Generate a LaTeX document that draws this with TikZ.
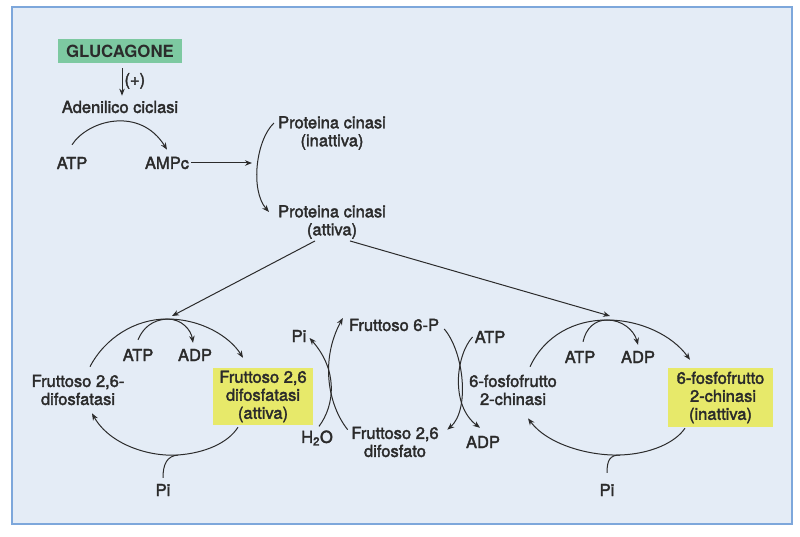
\documentclass[tikz,border=0pt]{standalone}
\usepackage{fontspec}
\setmainfont{TeX Gyre Heros}
\newfontfamily\diagfont{TeX Gyre Heros}[FakeBold=2.2]
\usetikzlibrary{arrows.meta}
\definecolor{pagebg}{HTML}{E4ECF6}
\definecolor{frame}{HTML}{7DA7DB}
\definecolor{hormgreen}{HTML}{7DC9A1}
\definecolor{enzyellow}{HTML}{E7E96A}
\definecolor{ink}{HTML}{2B2B2B}
\begin{document}
\begin{tikzpicture}[x=1pt, y=-1pt,
  lbl/.style={inner sep=2pt, text=ink, font=\diagfont\fontsize{16.5}{18}\selectfont, align=center},
  arr/.style={-{Stealth[length=7pt, width=5.5pt]}, draw=ink, line width=1pt},
  plain/.style={draw=ink, line width=1pt},
  hilite/.style={lbl, fill=enzyellow, minimum width=100pt, minimum height=57pt}]
\useasboundingbox (0,0) rectangle (800,537);
\fill[white] (0,0) rectangle (800,537);
\draw[draw=frame, fill=pagebg, line width=1.6pt] (12,7) rectangle (792,524);

% signal
\node[lbl, fill=hormgreen, minimum width=124pt, minimum height=24pt,
  font=\fontsize{16.8}{18}\selectfont\bfseries] (glu) at (120, 51) {GLUCAGONE};
\node[lbl] (acicl) at (120, 107) {Adenilico ciclasi};
\node[lbl] (atpA) at (72, 163) {ATP};
\node[lbl] (ampc) at (167, 163) {AMPc};
\node[lbl] (pkin) at (332, 133) {Proteina cinasi\\(inattiva)};
\node[lbl] (pkat) at (332, 222) {Proteina cinasi\\(attiva)};
\coordinate (pkmid) at (257, 163);

\draw[arr, shorten <=5pt, shorten >=3pt] ([xshift=2pt]glu.south) -- ([xshift=2pt]glu.south |- acicl.north)
  node[midway, right, lbl] {(+)};
\draw[arr] ([yshift=10pt]atpA.north) .. controls (88, 120) and (140, 106) .. ([yshift=5pt]ampc.north);
\draw[arr, shorten >=5pt] (ampc) -- (pkmid);
\draw[arr] ([xshift=-2pt, yshift=10pt]pkin.west) .. controls (256, 140) and (250, 190) .. ([xshift=-7pt, yshift=10pt]pkat.west);

% left cycle
\node[lbl] (fdl) at (78, 390) {Fruttoso 2,6-\\difosfatasi};
\node[hilite] (fda) at (263, 396.5) {Fruttoso 2,6\\difosfatasi\\(attiva)};
\node[lbl] (atpL) at (138, 355) {ATP};
\node[lbl] (adpL) at (195, 355) {ADP};
\node[lbl] (piL) at (163, 490) {Pi};
\coordinate (topL) at (167, 319);
\coordinate (botL) at (178, 455);

\draw[arr] ([xshift=-17pt]pkat.south) -- ([xshift=5pt, yshift=3pt]topL);
\draw[arr] ([xshift=12pt, yshift=6pt]fdl.north) .. controls (105, 338) and (135, 319) .. (topL)
  .. controls (202, 319) and (230, 337) .. ([xshift=-20pt, yshift=10pt]fda.north);
\draw[arr] ([yshift=7pt]atpL.north) .. controls (143, 328) and (152, 320) .. (topL)
  .. controls (182, 319) and (191, 330) .. ([xshift=-2pt, yshift=4pt]adpL.north);
\draw[arr] ([xshift=-25pt, yshift=-2pt]fda.south) .. controls (228, 443) and (205, 453) .. (botL)
  .. controls (150, 457) and (110, 445) .. ([xshift=14pt, yshift=-6pt]fdl.south);
\draw[plain] ([yshift=4pt]piL.north) .. controls (163, 464) and (167, 456) .. (botL);

% fructose 2,6-bisphosphate
\node[lbl] (f6p) at (394, 325) {Fruttoso 6-P};
\node[lbl] (f26) at (395, 442) {Fruttoso 2,6\\difosfato};
\node[lbl] (piC) at (299, 336) {Pi};
\node[lbl] (h2o) at (317, 438) {H\textsubscript{2}O};
\node[lbl] (atpC) at (490, 337) {ATP};
\node[lbl] (adpC) at (483, 442) {ADP};

\draw[arr] ([xshift=2pt, yshift=2pt]h2o.north) .. controls (335, 405) and (338, 370) .. ([xshift=1pt, yshift=-2pt]piC.east);
\draw[arr] ([xshift=-1.5pt, yshift=-5pt]f26.north west) .. controls (328, 405) and (320, 360) .. ([xshift=-4pt, yshift=7pt]f6p.west);
\draw[arr] ([xshift=3pt, yshift=-4pt]f6p.east) .. controls (464, 352) and (470, 410) .. ([xshift=6.5pt, yshift=-5pt]f26.north east);
\draw[arr] (atpC.west) .. controls (456, 355) and (450, 405) .. ([xshift=-3pt, yshift=6pt]adpC.north);

% right cycle
\node[lbl] (pfk) at (513, 390) {6-fosfofrutto\\2-chinasi};
\node[hilite, minimum width=105pt, minimum height=59pt] (pfki) at (720.5, 397.5)
  {6-fosfofrutto\\\hspace*{5pt}2-chinasi\\(inattiva)};
\node[lbl] (atpR) at (580, 357) {ATP};
\node[lbl] (adpR) at (638, 357) {ADP};
\node[lbl] (piR) at (607, 490) {Pi};
\coordinate (topR) at (607, 320);
\coordinate (botR) at (620, 455);

\draw[arr] ([xshift=18pt]pkat.south) -- ([xshift=3pt, yshift=4pt]topR);
\draw[arr] ([xshift=17pt, yshift=6pt]pfk.north) .. controls (545, 335) and (575, 320) .. (topR)
  .. controls (640, 320) and (672, 335) .. ([xshift=-30.5pt, yshift=8pt]pfki.north);
\draw[arr] ([xshift=3pt, yshift=7pt]atpR.north) .. controls (586, 328) and (595, 320) .. (topR)
  .. controls (622, 320) and (634, 330) .. ([yshift=4pt]adpR.north);
\draw[arr] ([xshift=-35.5pt, yshift=-1pt]pfki.south) .. controls (675, 443) and (650, 454) .. (botR)
  .. controls (590, 456) and (548, 445) .. ([xshift=15pt, yshift=-11pt]pfk.south);
\draw[plain] ([yshift=9pt]piR.north) .. controls (607, 460) and (610, 455) .. (botR);
\end{tikzpicture}
\end{document}
